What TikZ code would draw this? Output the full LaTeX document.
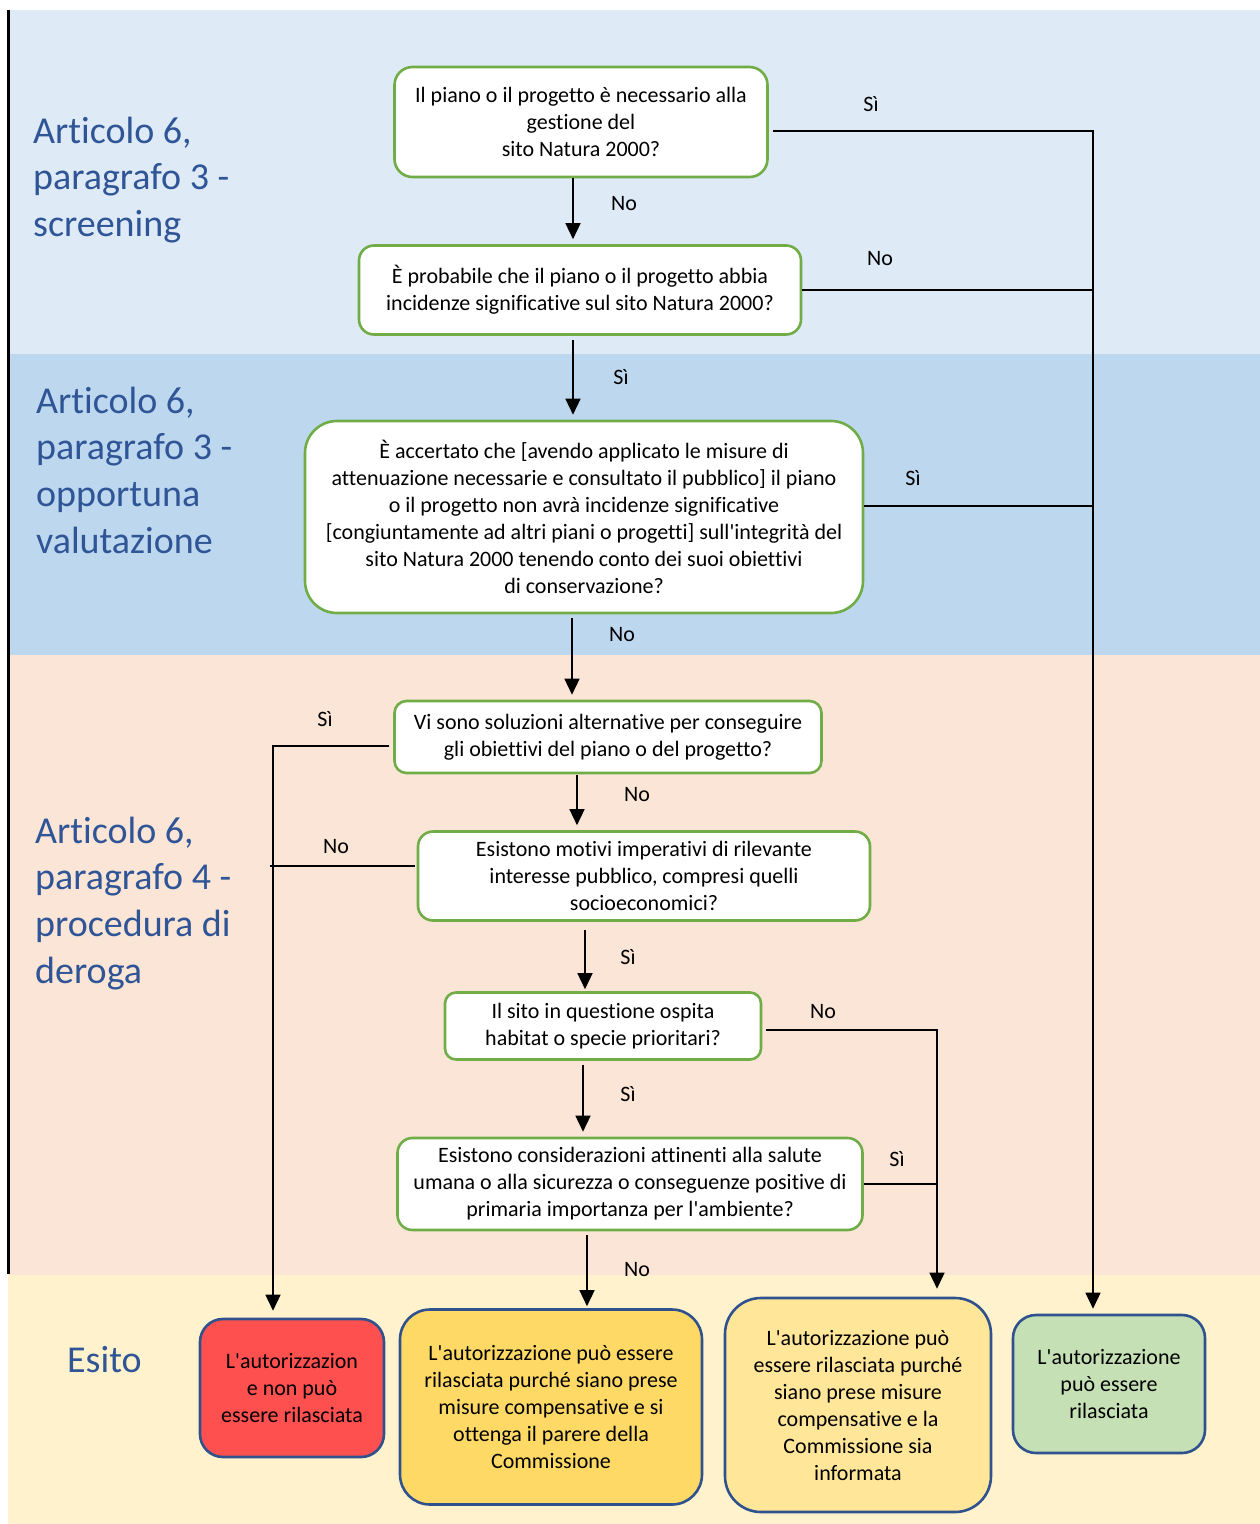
\documentclass[tikz,border=0pt]{standalone}
\usepackage{fontspec}
\setmainfont{Carlito}[Ligatures=NoCommon]
\usetikzlibrary{positioning, arrows.meta, calc}

\definecolor{bandA}{HTML}{DEEAF6}
\definecolor{bandB}{HTML}{BDD7EE}
\definecolor{bandC}{HTML}{FBE5D6}
\definecolor{bandD}{HTML}{FFF2CC}
\definecolor{qgreen}{HTML}{70AD47}
\definecolor{headblue}{HTML}{2F5597}
\definecolor{outblue}{HTML}{2F528F}
\definecolor{noRed}{HTML}{FF5050}
\definecolor{condGold}{HTML}{FFD966}
\definecolor{infoGold}{HTML}{FFE699}
\definecolor{okGreen}{HTML}{C5E0B4}

\newcommand{\ap}{\textquotesingle}

\tikzset{
  question/.style={draw=qgreen, line width=2.6pt, fill=white, align=center,
    inner sep=0pt, font=\fontsize{22}{27}\selectfont},
  outcome/.style={draw=outblue, line width=2.6pt, align=center,
    inner sep=0pt, font=\fontsize{22}{27}\selectfont},
  heading/.style={anchor=base west, align=left, inner sep=0pt, text=headblue,
    font=\fontsize{38}{46.7}\selectfont},
  lbl/.style={inner sep=0pt, font=\fontsize{22}{25}\selectfont},
  line/.style={line width=1.4pt, shorten <=4pt},
  arr/.style={line, -{Triangle[width=15pt,length=16pt]}, shorten >=5pt}
}

\begin{document}
\begin{tikzpicture}[x=1pt, y=-1pt]
    \useasboundingbox (0,0) rectangle (1260,1524);
    % bands
    \fill[bandA] (8,10) rectangle (1260,354);
    \fill[bandB] (8,354) rectangle (1260,655);
    \fill[bandC] (8,655) rectangle (1260,1275);
    \fill[bandD] (8,1275) rectangle (1260,1524);
    \draw[line width=3pt] (8.5,10) -- (8.5,1274);

    % base = last line
    \node[heading] (h1) at (33,236.4) {Articolo 6,\\paragrafo 3 -\\screening};
    \node[heading] (h2) at (36,553.1) {Articolo 6,\\paragrafo 3 -\\opportuna\\valutazione};
    \node[heading] (h3) at (35,983.1) {Articolo 6,\\paragrafo 4 -\\procedura di\\deroga};
    \node[heading] (h4) at (67,1372) {Esito};

    % questions
    \node[question, minimum width=373, minimum height=110, rounded corners=18] (q1) at (581,122)
        {Il piano o il progetto è necessario alla\\gestione del\\sito Natura 2000?};
    \node[question, minimum width=442, minimum height=89, rounded corners=15] (q2) at (580,290)
        {È probabile che il piano o il progetto abbia\\incidenze significative sul sito Natura 2000?};
    \node[question, minimum width=558, minimum height=192, rounded corners=32] (q3) at (584,517)
        {È accertato che {[}avendo applicato le misure di\\attenuazione necessarie e consultato il pubblico{]} il piano\\o il progetto non avrà incidenze significative\\{[}congiuntamente ad altri piani o progetti{]} sull\ap integrità del\\sito Natura 2000 tenendo conto dei suoi obiettivi\\di conservazione?};
    \node[question, minimum width=427, minimum height=72, rounded corners=12] (q4) at (608,737)
        {Vi sono soluzioni alternative per conseguire\\gli obiettivi del piano o del progetto?};
    \node[question, minimum width=452, minimum height=89, rounded corners=15] (q5) at (644,876)
        {Esistono motivi imperativi di rilevante\\interesse pubblico, compresi quelli\\socioeconomici?};
    \node[question, minimum width=316, minimum height=67, rounded corners=11] (q6) at (603,1026)
        {Il sito in questione ospita\\habitat o specie prioritari?};
    \node[question, minimum width=465, minimum height=92, rounded corners=15] (q7) at (630,1184)
        {Esistono considerazioni attinenti alla salute\\umana o alla sicurezza o conseguenze positive di\\primaria importanza per l\ap ambiente?};

    % outcomes
    \node[outcome, fill=noRed, minimum width=184, minimum height=138, rounded corners=23] (o1) at (292,1388)
        {L\ap autorizzazion\\e non può\\essere rilasciata};
    \node[outcome, fill=condGold, minimum width=302, minimum height=195, rounded corners=30] (o2) at (551,1407)
        {L\ap autorizzazione può essere\\rilasciata purché siano prese\\misure compensative e si\\ottenga il parere della\\Commissione};
    \node[outcome, fill=infoGold, minimum width=266, minimum height=214, rounded corners=36] (o3) at (858,1405)
        {L\ap autorizzazione può\\essere rilasciata purché\\siano prese misure\\compensative e la\\Commissione sia\\informata};
    \node[outcome, fill=okGreen, minimum width=192, minimum height=138, rounded corners=23] (o4) at (1109,1384)
        {L\ap autorizzazione\\può essere\\rilasciata};

    % trunks
    \coordinate (t1) at ($(o4.north)+(-16,0)$);
    \coordinate (t2) at ($(o1.north)+(-19,0)$);
    \coordinate (t3) at ($(o3.north)+(79,0)$);

    % main chain
    \coordinate (a1) at ($(q1.south)+(-8,0)$);
    \draw[arr, shorten <=0pt] (a1) -- (a1 |- q2.north);
    \coordinate (a2) at ($(q2.south)+(-7,0)$);
    \draw[arr] (a2) -- (a2 |- q3.north);
    \coordinate (a3) at ($(q3.south)+(-12,0)$);
    \draw[arr] (a3) -- (a3 |- q4.north);
    \coordinate (a4) at ($(q4.south)+(-31,0)$);
    \draw[arr, shorten <=1pt] (a4) -- (a4 |- q5.north);
    \coordinate (a5) at ($(q5.south)+(-59,0)$);
    \draw[arr, shorten <=8pt, shorten >=2pt] (a5) -- (a5 |- q6.north);
    \coordinate (a6) at ($(q6.south)+(-20,0)$);
    \draw[arr] (a6) -- (a6 |- q7.north);
    \coordinate (a7) at ($(q7.south)+(-43,0)$);
    \draw[arr, shorten >=2pt] (a7) -- (a7 |- o2.north);

    % side branches
    \draw[arr] ($(q1.east)+(0,9)$) -| (t1);
    \draw[line, shorten <=0pt] (q2.east) -- (q2.east -| t1);
    \draw[line, shorten <=0pt] ($(q3.east)+(0,-11)$) -- ($(q3.east -| t1)+(0,-11)$);
    \draw[arr, shorten >=7pt] ($(q4.west)+(0,9)$) -| (t2);
    \draw[line, shorten <=2pt] ($(q5.west)+(0,-10)$) -- ($(q5.west -| t2)+(-3,-10)$);
    \draw[arr, shorten >=8pt] ($(q6.east)+(0,4)$) -| (t3);
    \draw[line, shorten <=0pt] (q7.east) -- (q7.east -| t3);

    % labels
    \node[lbl] (l1) at (624,204) {No};
    \node[lbl] (l2) at (871,104) {Sì};
    \node[lbl] (l3) at (880,259) {No};
    \node[lbl] (l4) at (621,377) {Sì};
    \node[lbl] (l5) at (913,478) {Sì};
    \node[lbl] (l6) at (622,635) {No};
    \node[lbl] (l7) at (325,719) {Sì};
    \node[lbl] (l8) at (637,795) {No};
    \node[lbl] (l9) at (336,847) {No};
    \node[lbl] (l10) at (628,957) {Sì};
    \node[lbl] (l11) at (823,1012) {No};
    \node[lbl] (l12) at (628,1094) {Sì};
    \node[lbl] (l13) at (897,1159) {Sì};
    \node[lbl] (l14) at (637,1270) {No};
\end{tikzpicture}
\end{document}
